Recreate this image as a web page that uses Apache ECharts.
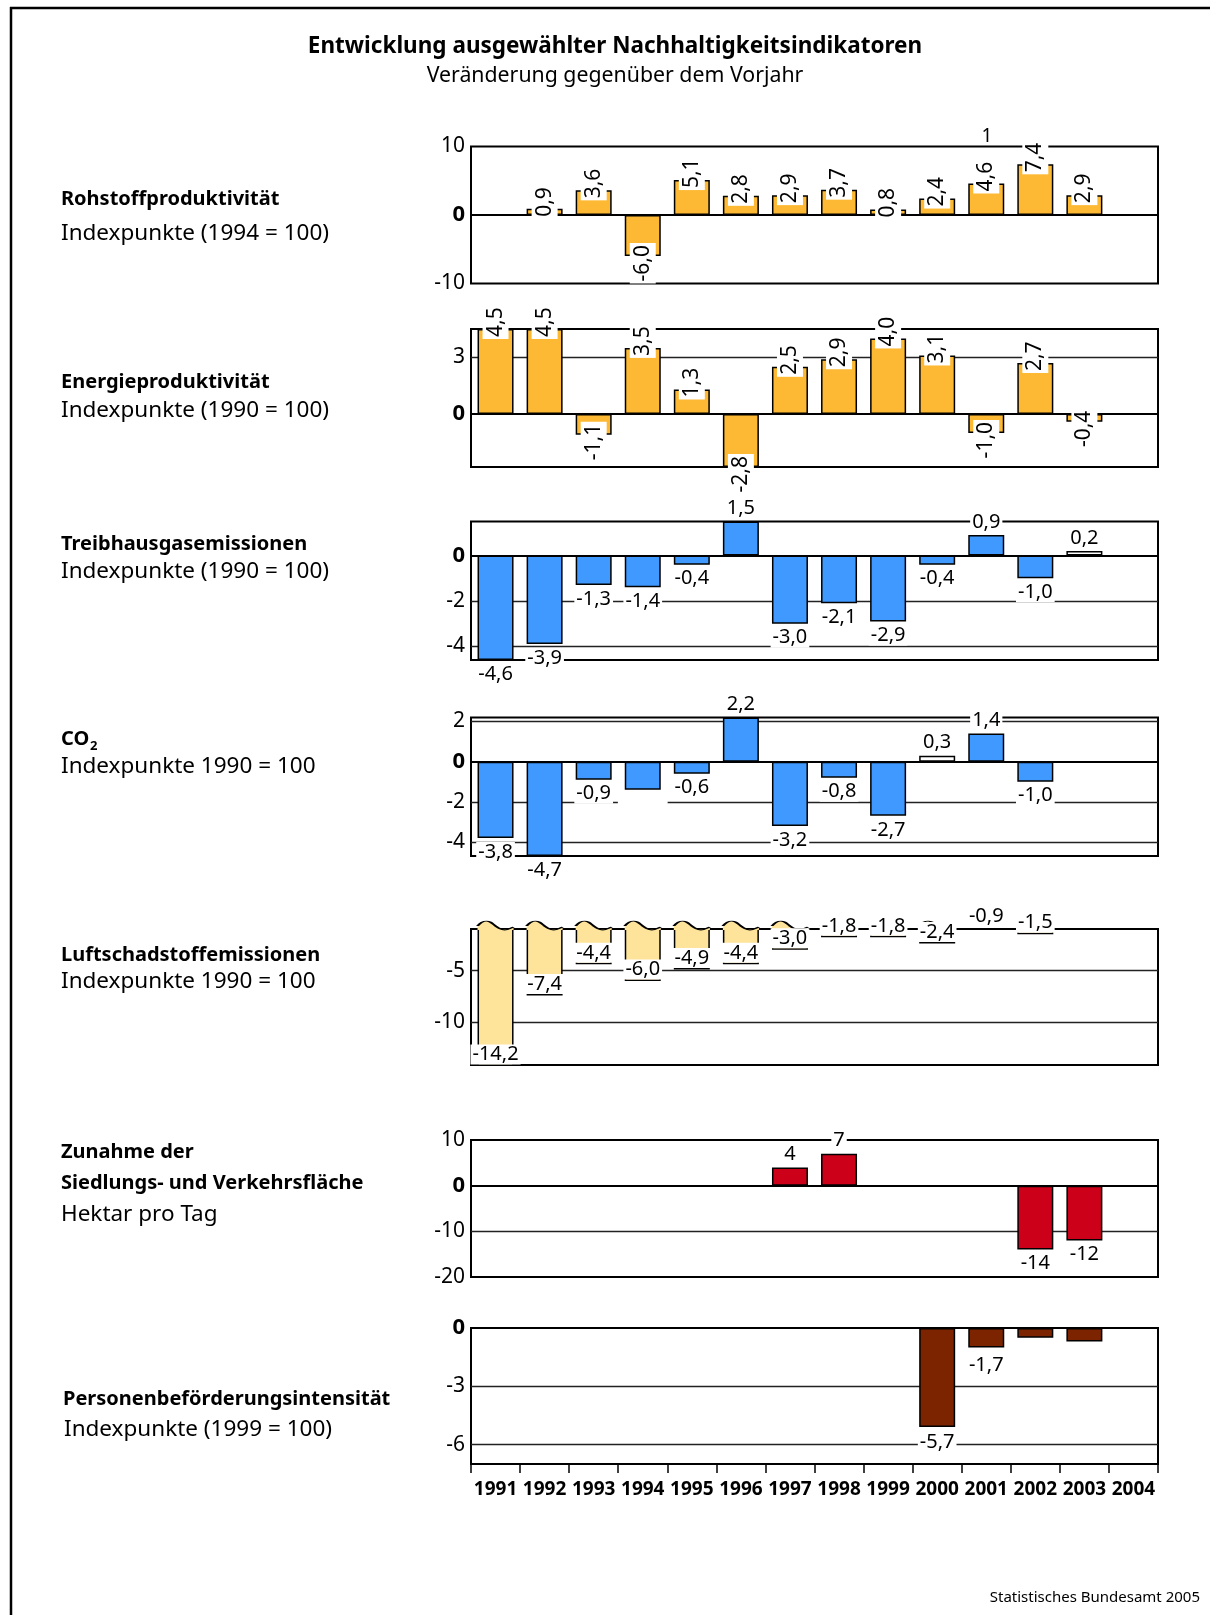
<!DOCTYPE html>
<html><head><meta charset="utf-8">
<script src="https://cdn.jsdelivr.net/npm/echarts@6/dist/echarts.min.js"></script>
<style>html,body{margin:0;padding:0;background:#fff}#c{width:1210px;height:1615px}</style>
</head><body><div id="c"></div>
<script>
// ---------- data ----------
const years = ['1991','1992','1993','1994','1995','1996','1997','1998','1999','2000','2001','2002','2003','2004'];
const rohstoff  = [null, 0.9, 3.6, -6.0, 5.1, 2.8, 2.9, 3.7, 0.8, 2.4, 4.6, 7.4, 2.9, null];
const energie   = [4.5, 4.5, -1.1, 3.5, 1.3, -2.8, 2.5, 2.9, 4.0, 3.1, -1.0, 2.7, -0.4, null];
const treibhaus = [-4.6, -3.9, -1.3, -1.4, -0.4, 1.5, -3.0, -2.1, -2.9, -0.4, 0.9, -1.0, 0.2, null];
const co2       = [-3.8, -4.7, -0.9, -1.4, -0.6, 2.2, -3.2, -0.8, -2.7, 0.3, 1.4, -1.0, null, null];
const luft      = [-14.2, -7.4, -4.4, -6.0, -4.9, -4.4, -3.0, -1.8, -1.8, -2.4, -0.9, -1.5, null, null];
const siedlung  = [null, null, null, null, null, null, 4, 7, null, null, null, -14, -12, null];
const personen  = [null, null, null, null, null, null, null, null, null, -5.1, -1.0, -0.5, -0.7, null];
const personenLabels = [null, null, null, null, null, null, null, null, null, -5.7, -1.7, null, null, null];
const treibhausWhiteYears = ['2003'];
const co2WhiteYears = ['2000'];
const co2BlankLabelYears = ['1994'];

// axis ranges / tick values per panel
const yMin = [-10, -2.8, -4.6, -4.7, -14.1, -20, -7];
const yMax = [10, 4.5, 1.5, 2.2, -1, 10, 0];
const yTickLabels = [[10, 0, -10], [3, 0], [0, -2, -4], [2, 0, -2, -4], [-5, -10], [10, 0, -10, -20], [0, -3, -6]];
const yGridValues = [[], [3], [-2, -4], [2, -2, -4], [-5, -10], [-10], [-3, -6]];

const panelTitles = ['Rohstoffproduktivität', 'Energieproduktivität', 'Treibhausgasemissionen', 'CO', 'Luftschadstoffemissionen', 'Zunahme der', 'Personenbeförderungsintensität'];
const panelSubtitles = ['Indexpunkte (1994 = 100)', 'Indexpunkte (1990 = 100)', 'Indexpunkte (1990 = 100)', 'Indexpunkte 1990 = 100', 'Indexpunkte 1990 = 100', 'Hektar pro Tag', 'Indexpunkte (1999 = 100)'];

// ---------- layout / style ----------
const FONT = '"Noto Sans", sans-serif';
const gridTops = [146.5, 329, 521.5, 717.5, 929, 1140, 1328];
const gridHeights = [137, 138, 138.5, 138.5, 136, 137, 136];
const ORANGE = '#FDB933', BLUE = '#3F99FF', LIGHT = '#FEE39A', RED = '#CC0019', BROWN = '#7C2400';

const fmt1 = v => (v < 0 ? '-' : '') + Math.abs(v).toFixed(1).replace('.', ',');
const fmt0 = v => String(v);

const chart = echarts.init(document.getElementById('c'), null, {renderer: 'canvas'});

const grid = [], xAxis = [], yAxis = [], series = [];
for (let i = 0; i < 7; i++) {
  grid.push({left: 471, width: 687, top: gridTops[i], height: gridHeights[i], show: true,
    borderColor: '#000', borderWidth: 2, backgroundColor: 'transparent', containLabel: false, outerBoundsMode: 'none'});
  const last = i === 6;
  xAxis.push({type: 'category', gridIndex: i, data: years, show: last, position: 'bottom',
    axisLine: {show: true, onZero: false, lineStyle: {color: '#000', width: 2}},
    axisTick: {show: true, length: 9, alignWithLabel: false, interval: 0, lineStyle: {color: '#000', width: 1.5}},
    axisLabel: {show: true, interval: 0, margin: 16, color: '#000', fontWeight: 'bold', fontSize: 19, fontFamily: FONT},
    splitLine: {show: false}});
  yAxis.push({type: 'value', gridIndex: i, min: yMin[i], max: yMax[i],
    axisLine: {show: false}, axisTick: {show: false}, splitLine: {show: false},
    axisLabel: {show: true, customValues: yTickLabels[i], margin: 6, color: '#000', fontSize: 21, fontFamily: FONT,
      formatter: v => v === 0 ? '{z|0}' : String(v),
      rich: {z: {fontWeight: 'bold', fontSize: 22, fontFamily: FONT, color: '#000'}}}});
}

const labelBase = {color: '#000', fontSize: 20, fontFamily: FONT, backgroundColor: '#fff', lineHeight: 20, opacity: 1};
const ROT_POS = {position: 'top', distance: 0, rotate: 90, align: 'left', verticalAlign: 'middle', offset: [-10, 0], padding: [2, 2, 2, 2], fontSize: 21, lineHeight: 22};
const ROT_NEG = {position: 'bottom', distance: 0, rotate: 90, align: 'right', verticalAlign: 'middle', offset: [13, 0], padding: [2, 2, 2, 2], fontSize: 21, lineHeight: 22};
const OUT_POS = {position: 'top', distance: 3, padding: [0, 2, 0, 2]};
const OUT_NEG = {position: 'bottom', distance: 4, padding: [0, 2, 0, 2]};

const panels = [
  {values: rohstoff, color: ORANGE, mode: 'rot', fmt: fmt1},
  {values: energie, color: ORANGE, mode: 'rot', fmt: fmt1},
  {values: treibhaus, color: BLUE, mode: 'out', fmt: fmt1, white: treibhausWhiteYears},
  {values: co2, color: BLUE, mode: 'out', fmt: fmt1, white: co2WhiteYears, blank: co2BlankLabelYears},
  {values: luft, color: LIGHT, mode: 'none', fmt: fmt1},
  {values: siedlung, color: RED, mode: 'out', fmt: fmt0},
  {values: personen, color: BROWN, mode: 'none', fmt: fmt1}
];

panels.forEach((p, i) => {
  const data = p.values.map((v, k) => {
    if (v == null) return '-';
    const d = {value: v};
    if (p.white && p.white.includes(years[k])) d.itemStyle = {color: '#fff'};
    if (p.mode === 'rot') d.label = Object.assign({}, v >= 0 ? ROT_POS : ROT_NEG);
    else if (p.mode === 'out') {
      d.label = Object.assign({}, v >= 0 ? OUT_POS : OUT_NEG);
      if (p.blank && p.blank.includes(years[k])) d.label.formatter = '\u2007\u2007\u2007\u2007';
    }
    return d;
  });
  const hasZero = yMin[i] < 0 && yMax[i] > 0;
  const ml = yGridValues[i].map(v => ({yAxis: v, lineStyle: {color: '#222', width: 1.3, type: 'solid'}}));
  if (hasZero) ml.push({yAxis: 0, lineStyle: {color: '#000', width: 2, type: 'solid'}});
  series.push({
    type: 'bar', xAxisIndex: i, yAxisIndex: i, data, barWidth: 36, clip: true,
    itemStyle: {color: p.color, borderColor: '#000', borderWidth: 1.5, opacity: 1},
    label: Object.assign({show: p.mode !== 'none', formatter: q => p.fmt(q.value)}, labelBase),
    markLine: {silent: true, symbol: ['none', 'none'], z: 1, animation: false, label: {show: false}, data: ml},
    animation: false
  });
});

// wave caps on the broken Luftschadstoff axis
const capTop = luft.map(v => (v != null && v < yMax[4]) ? yMax[4] : '-');
const CAP_FILL = 'path://M0,5 C3,1 6,0 9,0 C13,0 15,3 18,5 C21,7 24,9 27,9 C30,9 33,7 36,6 L36,9 L0,9 Z';
const CAP_LINE = 'path://M0,5 C3,1 6,0 9,0 C13,0 15,3 18,5 C21,7 24,9 27,9 C30,9 33,7 36,6';
series.push({type: 'scatter', xAxisIndex: 4, yAxisIndex: 4, data: capTop, symbol: CAP_FILL, symbolSize: [36, 9],
  symbolOffset: [0, -3.5], itemStyle: {color: LIGHT, opacity: 1}, clip: false, silent: true, z: 3, animation: false});
series.push({type: 'scatter', xAxisIndex: 4, yAxisIndex: 4, data: capTop, symbol: CAP_LINE, symbolSize: [36, 9],
  symbolOffset: [0, -3.5], itemStyle: {color: 'rgba(0,0,0,0)', borderColor: '#000', borderWidth: 1.5, opacity: 1}, clip: false, silent: true, z: 4, animation: false});
// Luftschadstoff value labels (at bar ends, inside)
series.push({type: 'scatter', xAxisIndex: 4, yAxisIndex: 4, data: luft.map(v => v == null ? '-' : v), symbolSize: 1,
  itemStyle: {color: 'rgba(0,0,0,0)', opacity: 1}, clip: false, silent: true, z: 5, animation: false,
  label: Object.assign({show: true, position: 'top', distance: 1, padding: [0, 2, 0, 2], formatter: q => fmt1(q.value)}, labelBase)});
// Personenbeförderung value labels
series.push({type: 'scatter', xAxisIndex: 6, yAxisIndex: 6, data: personenLabels.map(v => v == null ? '-' : v), symbolSize: 1,
  itemStyle: {color: 'rgba(0,0,0,0)', opacity: 1}, clip: false, silent: true, z: 5, animation: false,
  label: Object.assign({show: true, position: 'inside', offset: [0, 4], padding: [0, 2, 0, 2], formatter: q => fmt1(q.value)}, labelBase)});

// ---------- texts ----------
const leftX = 61;
const tx = (text, x, y, size, bold, align) => ({type: 'text', x: 0, y: 0, silent: true, style: {text, x, y, fill: '#000',
  fontSize: size, fontWeight: bold ? 'bold' : 'normal', fontFamily: FONT,
  textAlign: align || 'left', align: align || 'left', textVerticalAlign: 'middle', verticalAlign: 'middle'}});
const SUB = 22.5;
const graphic = [
  {type: 'line', silent: true, shape: {x1: 10, y1: 8, x2: 1210, y2: 8}, style: {stroke: '#000', lineWidth: 2.5}},
  {type: 'line', silent: true, shape: {x1: 11, y1: 7, x2: 11, y2: 1615}, style: {stroke: '#000', lineWidth: 2.5}},
  tx('Entwicklung ausgewählter Nachhaltigkeitsindikatoren', 615, 47, 22.5, true, 'center'),
  tx('Veränderung gegenüber dem Vorjahr', 615, 76, 21.3, false, 'center'),
  tx(panelTitles[0], leftX, 199, 20, true), tx(panelSubtitles[0], leftX, 234, SUB, false),
  tx(panelTitles[1], leftX, 382, 20, true), tx(panelSubtitles[1], leftX, 411, SUB, false),
  tx(panelTitles[2], leftX, 544, 20, true), tx(panelSubtitles[2], leftX, 572, SUB, false),
  tx(panelTitles[3], leftX, 739, 20, true), tx('2', leftX + 29, 746, 13, true), tx(panelSubtitles[3], leftX, 767, SUB, false),
  tx(panelTitles[4], leftX, 955, 20, true), tx(panelSubtitles[4], leftX, 982, SUB, false),
  tx(panelTitles[5], leftX, 1152, 20, true), tx('Siedlungs- und Verkehrsfläche', leftX, 1183, 20, true), tx(panelSubtitles[5], leftX, 1215, SUB, false),
  tx(panelTitles[6], leftX + 2, 1399, 20, true), tx(panelSubtitles[6], leftX + 3, 1430, SUB, false),
  tx('1', 987, 137, 19, false, 'center'),
  tx('Statistisches Bundesamt 2005', 1200, 1598, 15, false, 'right')
];

chart.setOption({animation: false, backgroundColor: '#fff', grid, xAxis, yAxis, series, graphic});
</script></body></html>
